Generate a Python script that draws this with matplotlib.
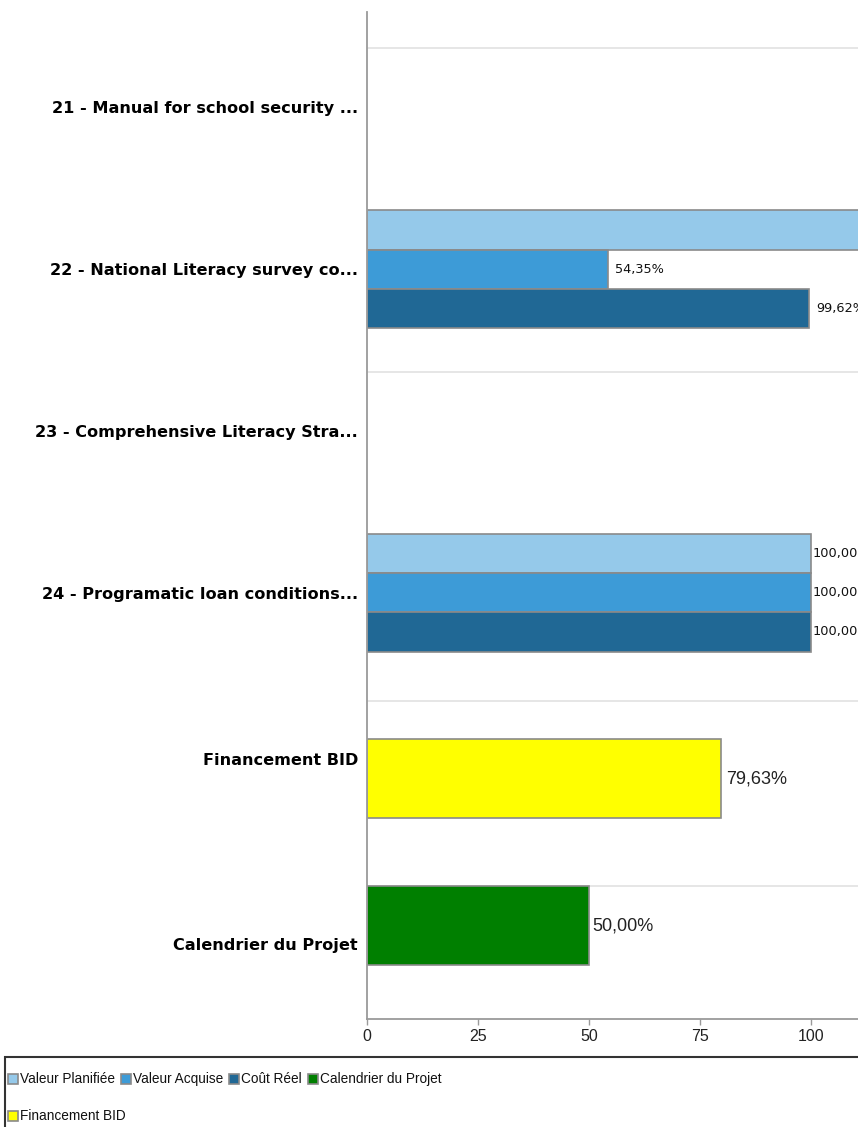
import matplotlib
matplotlib.use("Agg")
import matplotlib.pyplot as plt
from matplotlib.patches import Rectangle

# ---------------- data ----------------
categories = [
    "21 - Manual for school security ...",
    "22 - National Literacy survey co...",
    "23 - Comprehensive Literacy Stra...",
    "24 - Programatic loan conditions...",
    "Financement BID",
    "Calendrier du Projet",
]
# task-level series (first four categories), None = no bar
valeur_planifiee = [None, 116.0, None, 100.0]
valeur_acquise = [None, 54.35, None, 100.0]
cout_reel = [None, 99.62, None, 100.0]
# summary series
financement_bid = [79.63]
calendrier_projet = [50.00]

series_names = ["Valeur Planifiée", "Valeur Acquise", "Coût Réel",
                "Calendrier du Projet", "Financement BID"]
x_ticks = [0, 25, 50, 75, 100, 125]

# ---------------- style ----------------
c_plan = "#95c9ea"
c_acq = "#3d9bd7"
c_cout = "#206895"
c_cal = "#007f00"
c_fin = "#ffff00"
edge = "#8a8a8a"
series_colors = [c_plan, c_acq, c_cout, c_cal, c_fin]

W, H = 858, 1127
fig = plt.figure(figsize=(W / 100, H / 100), dpi=100)

# axes in pixel-like vertical units (top of figure = 0)
ax_top_px, ax_bot_px = 12, 1019
ax_left_px = 367
px_per_unit = 4.44
xmax = 125
ax = fig.add_axes([ax_left_px / W, (H - ax_bot_px) / H,
                   px_per_unit * xmax / W, (ax_bot_px - ax_top_px) / H])
ax.set_xlim(0, xmax)
ax.set_ylim(ax_bot_px, ax_top_px)

# layout (positions)
first_center, step = 107.5, 161.7
slot = 39.3
task_centers = [first_center + step * i for i in range(4)]
fin_center = task_centers[-1] + 186
cal_center = fin_center + 147
summary_h = 79
label_pos = task_centers + [fin_center - 19.5, cal_center + 18.5]
grid_y = [47.7, 371.5, 701, 885.7]

for gy in grid_y:
    ax.axhline(gy, color="#e2e2e2", lw=1.2, zorder=0)

small_font = dict(family="DejaVu Sans", size=9.3, color="#111111")
big_font = dict(family=["Liberation Sans", "DejaVu Sans"], size=13, color="#222222")

def fmt(v):
    return f"{v:.2f}".replace(".", ",") + "%"

for i, c in enumerate(task_centers):
    for k, (vals, col) in enumerate([(valeur_planifiee, c_plan),
                                     (valeur_acquise, c_acq),
                                     (cout_reel, c_cout)]):
        v = vals[i]
        if v is None:
            continue
        yc = c + (k - 1) * slot
        ax.barh(yc, v, height=slot, color=col, edgecolor=edge, lw=1.2, zorder=2)
        off = 0.3 if v >= 100 else 1.5
        ax.text(v + off, yc, fmt(v), va="center", ha="left", zorder=3,
                **small_font)

ax.barh(fin_center, financement_bid[0], height=summary_h, color=c_fin,
        edgecolor=edge, lw=1.2, zorder=2)
ax.text(financement_bid[0] + 1.2, fin_center, fmt(financement_bid[0]),
        va="center", ha="left", **big_font)
ax.barh(cal_center, calendrier_projet[0], height=summary_h, color=c_cal,
        edgecolor=edge, lw=1.2, zorder=2)
ax.text(calendrier_projet[0] + 0.7, cal_center, fmt(calendrier_projet[0]),
        va="center", ha="left", **big_font)

# axes styling
for s in ["top", "right"]:
    ax.spines[s].set_visible(False)
for s in ["left", "bottom"]:
    ax.spines[s].set_color("#9a9a9a")
    ax.spines[s].set_linewidth(1.3)

ax.set_yticks(label_pos)
ax.set_yticklabels(categories, fontweight="bold",
                   family=["DejaVu Sans"], fontsize=11.6,
                   color="#000000")
ax.tick_params(axis="y", length=0, pad=6.5)
ax.set_xticks(x_ticks)
ax.set_xticklabels([str(t) for t in x_ticks],
                   family=["Liberation Sans", "DejaVu Sans"], fontsize=11.5,
                   color="#222222")
ax.tick_params(axis="x", length=4, width=1, color="#9a9a9a", pad=3)

# legend frame (extends past figure edges)
fig.patches.append(Rectangle((5 / W, -0.05), 1.2, (H - 1057) / H + 0.05,
                             transform=fig.transFigure, fill=False,
                             edgecolor="#333333", lw=1.5))

# flowing legend: row 1 = first four series, row 2 = Financement BID
renderer = fig.canvas.get_renderer()
rows = [[0, 1, 2, 3], [4]]
row_y = [1079, 1116]
sq = 10
for r, idxs in enumerate(rows):
    x = 8
    y = row_y[r]
    for idx in idxs:
        fig.patches.append(Rectangle((x / W, 1 - (y + sq / 2) / H), sq / W, sq / H,
                                     transform=fig.transFigure,
                                     facecolor=series_colors[idx],
                                     edgecolor=edge, lw=1.2))
        t = fig.text((x + sq + 2) / W, 1 - y / H, series_names[idx],
                     va="center", ha="left", fontsize=9.8,
                     family=["Liberation Sans", "DejaVu Sans"], color="#111111")
        w = t.get_window_extent(renderer).width
        x = x + sq + 2 + w + 6

fig.savefig("out.png", dpi=100)
